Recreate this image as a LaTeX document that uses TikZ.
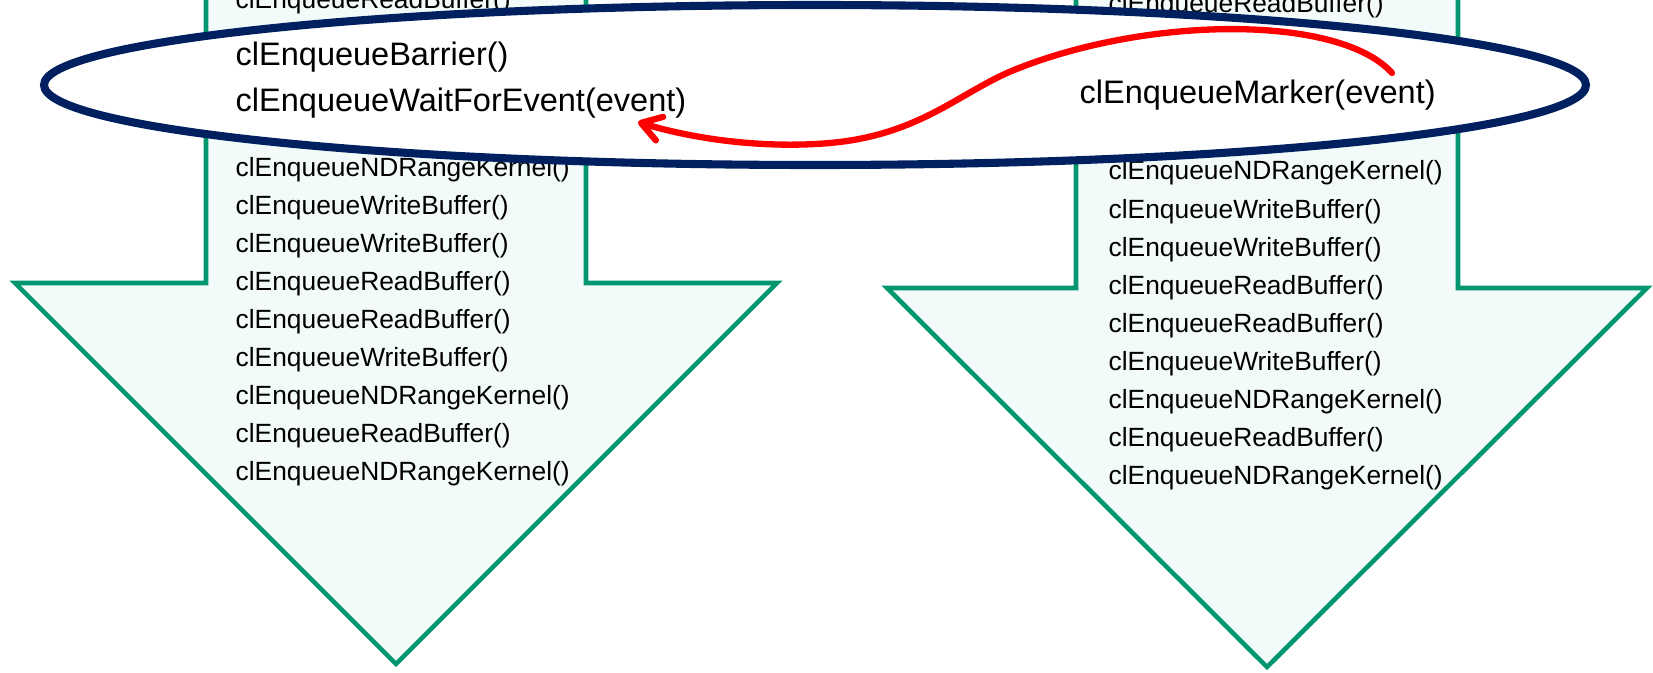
\documentclass[tikz,border=0pt]{standalone}
\usepackage{fontspec}
\setmainfont{Liberation Sans}
\usetikzlibrary{arrows.meta}
\definecolor{cQueue}{HTML}{009670}
\definecolor{cQFill}{HTML}{F2FBF9}
\definecolor{cSync}{HTML}{002060}
\definecolor{cEvt}{HTML}{FF0000}

\begin{document}
\begin{tikzpicture}[
    x=1cm, y=1cm,
    qarrow/.style={draw=cQueue, line width=1.3pt, fill=cQFill, line join=miter},
    syncring/.style={draw=cSync, line width=2.3pt, fill=white},
    cmd/.style={font=\fontsize{7.5}{9}\selectfont, anchor=base west, inner sep=0pt},
    bigcmd/.style={font=\fontsize{9.25}{11}\selectfont, anchor=base west, inner sep=0pt},
    evtlink/.style={-{Straight Barb[length=5.5pt, width=7pt, round]},
                    line width=1.8pt, cEvt, line cap=round},
]
\useasboundingbox (0,0) rectangle (16.53,-6.73);
\clip (0,0) rectangle (16.53,-6.73);

% ===========================================================================
% Cola 1
% ===========================================================================
\draw[qarrow] (2.06,0.3) -- (2.06,-2.83) -- (0.15,-2.83) -- (3.96,-6.64)
      -- (7.77,-2.83) -- (5.86,-2.83) -- (5.86,0.3) -- cycle;
\node[cmd] (qa0) at (2.35,-0.09) {clEnqueueReadBuffer()};
\foreach \c [count=\i from 1] in {NDRangeKernel, WriteBuffer, WriteBuffer,
        ReadBuffer, ReadBuffer, WriteBuffer, NDRangeKernel, ReadBuffer,
        NDRangeKernel} {
    \node[cmd] (qa\i) at (2.35,{-1.77-0.379*(\i-1)}) {clEnqueue\c()};
}

% ===========================================================================
% Cola 2
% ===========================================================================
\draw[qarrow] (10.76,0.3) -- (10.76,-2.88) -- (8.87,-2.88) -- (12.67,-6.67)
      -- (16.47,-2.88) -- (14.58,-2.88) -- (14.58,0.3) -- cycle;
\node[cmd] (qb0) at (11.08,-0.13) {clEnqueueReadBuffer()};
\foreach \c [count=\i from 1] in {NDRangeKernel, WriteBuffer, WriteBuffer,
        ReadBuffer, ReadBuffer, WriteBuffer, NDRangeKernel, ReadBuffer,
        NDRangeKernel} {
    \node[cmd] (qb\i) at (11.08,{-1.80-0.381*(\i-1)}) {clEnqueue\c()};
}

% ===========================================================================
% Sincronización entre colas
% ===========================================================================
\draw[syncring] (8.15,-0.85) ellipse [x radius=7.71, y radius=0.80];

\node[bigcmd] (barrier) at (2.35,-0.66) {clEnqueueBarrier()};
\node[bigcmd] (wait)    at (2.35,-1.12) {clEnqueueWaitForEvent(event)};
\node[bigcmd] (marker)  at (10.79,-1.04) {clEnqueueMarker(event)};

\coordinate (evtsrc) at (13.92,-0.73);
\coordinate (evtdst) at (6.38,-1.22);
\draw[evtlink] (evtsrc) .. controls (13.40,-0.15) and (11.50,-0.15) .. (10.14,-0.70)
      .. controls (9.60,-0.92) and (9.20,-1.35) .. (8.30,-1.43)
      .. controls (7.60,-1.49) and (6.90,-1.38) .. (evtdst);

\end{tikzpicture}
\end{document}
